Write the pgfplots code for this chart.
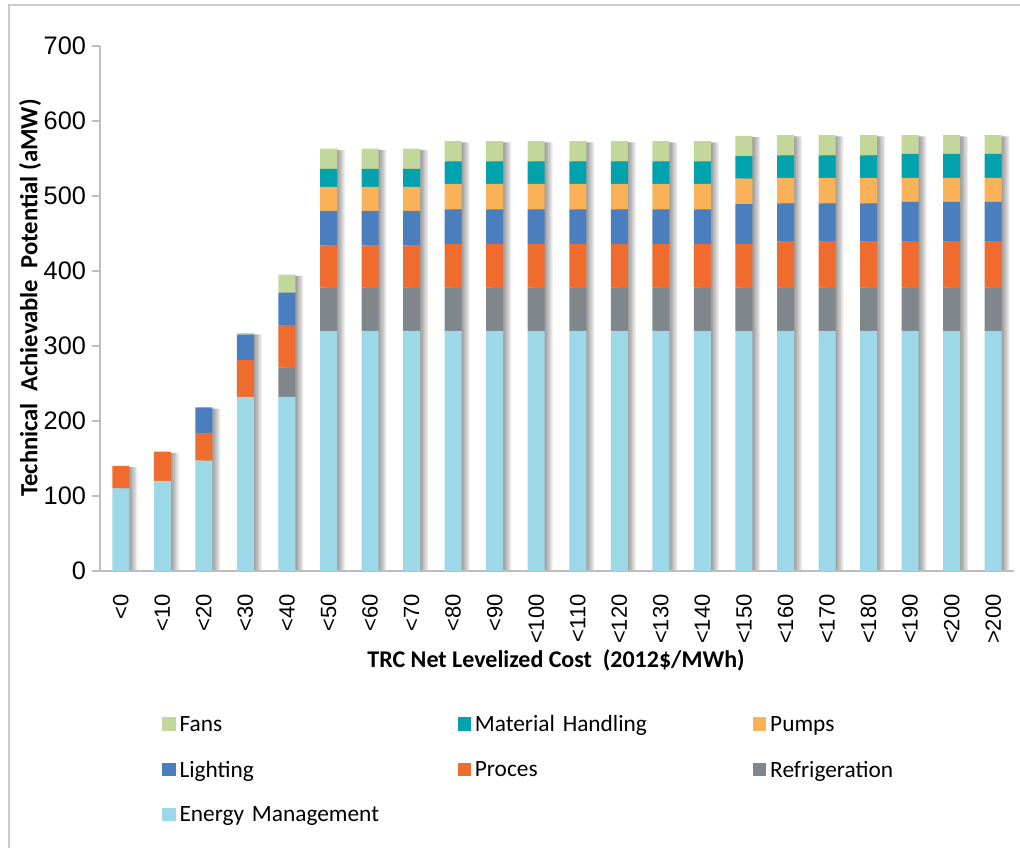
\documentclass[border=0pt]{standalone}
\usepackage{pgfplots}
\pgfplotsset{compat=1.18}
\usepackage{pgfplotstable}
\usepackage{fontspec}
\setmainfont{Carlito}
\newfontfamily\ticksfont{Liberation Sans}
\definecolor{cEM}{HTML}{9DD8E8}
\definecolor{cRef}{HTML}{7F878D}
\definecolor{cPro}{HTML}{F06C2E}
\definecolor{cLig}{HTML}{4A7EBF}
\definecolor{cPum}{HTML}{F9B257}
\definecolor{cMH}{HTML}{00A3AD}
\definecolor{cFan}{HTML}{C4D79B}
\definecolor{gridc}{HTML}{BDBDBD}
\pgfplotstableread{
x EM Ref Pro Lig Pum MH Fan
0 110 0 30 0 0 0 0
1 120 0 39 0 0 0 0
2 147 0 37 34 0 0 0
3 232 0 49 34 0 0 2
4 232 39 56 44 0 0 24
5 320 58 56 46 32 24 27
6 320 58 56 46 32 24 27
7 320 58 56 46 32 24 27
8 320 58 58 46 34 30 27
9 320 58 58 46 34 30 27
10 320 58 58 46 34 30 27
11 320 58 58 46 34 30 27
12 320 58 58 46 34 30 27
13 320 58 58 46 34 30 27
14 320 58 58 46 34 30 27
15 320 58 58 53 34 30 27
16 320 58 61 51 34 30 27
17 320 58 61 51 34 30 27
18 320 58 61 51 34 30 27
19 320 58 61 53 32 32 25
20 320 58 61 53 32 32 25
21 320 58 61 53 32 32 25
}\data
\pgfplotsset{common/.style={
  scale only axis,
  width=685.5pt, height=393.75pt,
  bar width=12.75pt,
  xmin=-0.5, xmax=21.5, ymin=0, ymax=700,
  ytick={0,100,...,700},
}}
\begin{document}
\begin{tikzpicture}
\useasboundingbox (-75pt,-207.75pt) rectangle (690pt,428.25pt);
\draw[color=gridc!80, line width=1.2pt] (-68.25pt,-207.75pt) -- (-68.25pt,424.5pt) -- (690pt,424.5pt);
% shadow layer with grid
\begin{axis}[
  common, ybar,
  axis lines=none,
  ymajorgrids, grid style={draw=gridc, line width=1pt},
  xtick=\empty, yticklabels={},
  major tick length=0pt,
]
\pgfplotsinvokeforeach{1,2,3,4,5,6}{
\addplot[fill=black, draw=none, fill opacity=0.075, bar shift=#1pt]
  table[x=x, y expr=\thisrow{EM}+\thisrow{Ref}+\thisrow{Pro}+\thisrow{Lig}+\thisrow{Pum}+\thisrow{MH}+\thisrow{Fan}-1.5]{\data};
}
\end{axis}
\begin{axis}[
  common,
  ybar stacked,
  xtick=data,
  xticklabels={<0,<10,<20,<30,<40,<50,<60,<70,<80,<90,<100,<110,<120,<130,<140,<150,<160,<170,<180,<190,<200,>200},
  major x tick style={draw=none},
  extra x ticks={-0.5,0.5,...,21.5},
  extra x tick labels={},
  extra x tick style={major tick length=8pt, tick style={draw=gridc, line width=1pt}, grid=none, tick align=outside},
  axis lines*=left,
  axis line style={draw=gridc, line width=1pt, -},
  major y tick style={draw=gridc, line width=1pt},
  tick align=outside, major tick length=6pt,
  /pgf/number format/assume math mode=true,
  y tick label style={font=\ticksfont\fontsize{19}{22}\selectfont, xshift=-1pt},
  x tick label style={font=\ticksfont\fontsize{16.5}{20}\selectfont, rotate=90, anchor=east, xshift=-8pt},
  xlabel={\bfseries TRC Net Levelized Cost~~(2012\$/MWh)},
  xlabel style={font=\fontsize{18}{21}\selectfont, at={(342pt,-66.75pt)}, anchor=center},
  ylabel={\bfseries Technical~~Achievable~~Potential (aMW)},
  ylabel style={font=\fontsize{18.5}{21}\selectfont, at={(-52.5pt,204.75pt)}, anchor=center, rotate=0},
  reverse legend,
  legend columns=3,
  legend style={at={(0.0678,-0.2724)}, anchor=north west, draw=none, inner sep=0pt, fill=none,
    font=\fontsize{17.5}{21}\selectfont,
    nodes={text width=207.5pt, align=left, inner sep=1pt},
    row sep=18.5pt},
  legend image code/.code={\fill[#1] (0pt,-4.5pt) rectangle (10pt,5.5pt); \path (0pt,0pt) -- (12pt,0pt);},
]
\addplot[fill=cEM, draw=none] table[x=x,y=EM]{\data};
\addplot[fill=cRef, draw=none] table[x=x,y=Ref]{\data};
\addplot[fill=cPro, draw=none] table[x=x,y=Pro]{\data};
\addplot[fill=cLig, draw=none] table[x=x,y=Lig]{\data};
\addplot[fill=cPum, draw=none] table[x=x,y=Pum]{\data};
\addplot[fill=cMH, draw=none] table[x=x,y=MH]{\data};
\addplot[fill=cFan, draw=none] table[x=x,y=Fan]{\data};
\legend{Energy Management, Refrigeration, Proces, Lighting, Pumps, Material Handling, Fans}
\end{axis}
\end{tikzpicture}
\end{document}
